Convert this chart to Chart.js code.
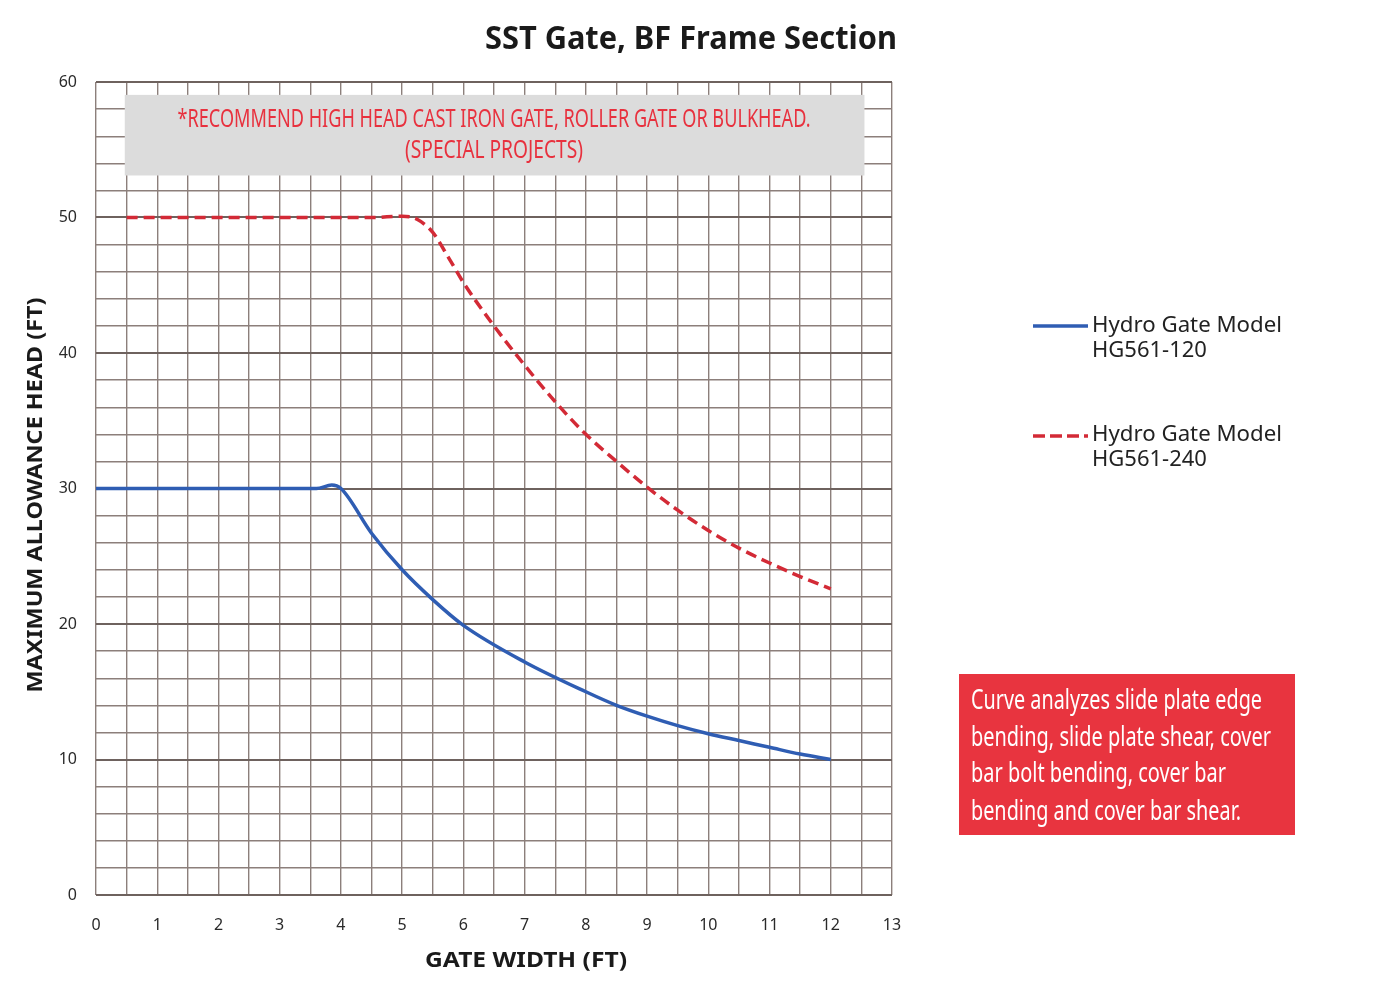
<!DOCTYPE html>
<html>
<head>
<meta charset="utf-8">
<script src="https://cdn.jsdelivr.net/npm/chart.js@4.4.1/dist/chart.umd.min.js"></script>
<style>
html,body{margin:0;padding:0;background:#fff;}
#wrap{width:1383px;height:1000px;position:relative;}
</style>
</head>
<body>
<div id="wrap"><canvas id="c"></canvas></div>
<script>
// ---- Data ----
const titleText = 'SST Gate, BF Frame Section';
const xAxisTitle = 'GATE WIDTH (FT)';
const yAxisTitle = 'MAXIMUM ALLOWANCE HEAD (FT)';
const series1Name = ['Hydro Gate Model', 'HG561-120'];
const series2Name = ['Hydro Gate Model', 'HG561-240'];
const s1X = [0, 1, 2, 3, 3.6, 3.85, 4.0, 4.5, 5, 5.5, 6, 7, 8, 8.5, 9, 9.5, 10, 10.5, 11, 11.5, 12];
const s1Y = [30, 30, 30, 30, 30.0, 30.25, 30.0, 26.7, 24.0, 21.8, 19.9, 17.2, 15.0, 14.0, 13.2, 12.5, 11.9, 11.4, 10.9, 10.4, 10.0];
const s2X = [0.5, 1, 2, 3, 4, 4.5, 5, 5.25, 5.5, 5.75, 6, 6.5, 7, 7.5, 8, 8.5, 9, 9.5, 10, 10.5, 11, 11.5, 12];
const s2Y = [50, 50, 50, 50, 50, 50, 50.1, 49.85, 48.9, 47.1, 45.2, 42.0, 39.1, 36.4, 34.0, 32.0, 30.1, 28.4, 26.9, 25.6, 24.5, 23.5, 22.6];
const xTickLabels = ['0','1','2','3','4','5','6','7','8','9','10','11','12','13'];
const yTickLabels = ['0','10','20','30','40','50','60'];
const noteLines = ['*RECOMMEND HIGH HEAD CAST IRON GATE, ROLLER GATE OR BULKHEAD.', '(SPECIAL PROJECTS)'];
const boxLines = ['Curve analyzes slide plate edge', 'bending, slide plate shear, cover', 'bar bolt bending, cover bar', 'bending and cover bar shear.'];

const BLUE = '#2f5db3';
const RED = '#d32a36';

function fitText(ctx, text, x, y, w, align) {
  const m = ctx.measureText(text).width;
  const s = w / m;
  ctx.save();
  ctx.translate(x, y);
  ctx.scale(s, 1);
  ctx.textAlign = align || 'left';
  ctx.fillText(text, 0, 0);
  ctx.restore();
}

const decor = {
  id: 'decor',
  beforeDatasetsDraw(chart) {
    const ctx = chart.ctx;
    const xs = chart.scales.x, ys = chart.scales.y;
    // gray note box
    const l = xs.getPixelForValue(0.47), r = xs.getPixelForValue(12.55);
    const t = ys.getPixelForValue(59.05), b = ys.getPixelForValue(53.1);
    ctx.save();
    ctx.fillStyle = '#dcdcdc';
    ctx.fillRect(l, t, r - l, b - t);
    ctx.fillStyle = '#e8313e';
    ctx.textBaseline = 'middle';
    ctx.font = '26px "Noto Sans", sans-serif';
    fitText(ctx, noteLines[0], 494, 120, 633, 'center');
    fitText(ctx, noteLines[1], 494, 151, 178, 'center');
    ctx.restore();
  },
  afterDraw(chart) {
    const ctx = chart.ctx;
    ctx.save();
    ctx.fillStyle = '#1a1a1a';
    ctx.textBaseline = 'middle';
    ctx.font = 'bold 32px "Noto Sans", sans-serif';
    fitText(ctx, titleText, 691, 40, 412, 'center');
    ctx.font = 'bold 21px "Noto Sans", sans-serif';
    fitText(ctx, xAxisTitle, 526, 961, 202, 'center');
    ctx.save();
    ctx.translate(36, 495);
    ctx.rotate(-Math.PI / 2);
    fitText(ctx, yAxisTitle, 0, 0, 395, 'center');
    ctx.restore();

    // legend
    ctx.lineWidth = 3.5;
    ctx.strokeStyle = BLUE;
    ctx.beginPath(); ctx.moveTo(1033, 326); ctx.lineTo(1088, 326); ctx.stroke();
    ctx.strokeStyle = RED;
    ctx.setLineDash([12, 5]);
    ctx.beginPath(); ctx.moveTo(1033, 436); ctx.lineTo(1088, 436); ctx.stroke();
    ctx.setLineDash([]);
    ctx.fillStyle = '#222';
    ctx.font = '22px "Noto Sans", sans-serif';
    fitText(ctx, series1Name[0], 1092, 326, 190, 'left');
    ctx.fillText(series1Name[1], 1092, 351);
    fitText(ctx, series2Name[0], 1092, 435, 190, 'left');
    ctx.fillText(series2Name[1], 1092, 460);

    // red info box
    ctx.fillStyle = '#e8343f';
    ctx.fillRect(959, 674, 336, 161);
    ctx.fillStyle = '#ffffff';
    ctx.font = '27px "Noto Sans", sans-serif';
    const widths = [291, 300, 255, 270];
    const ysL = [701, 738, 774, 812];
    boxLines.forEach((s, i) => fitText(ctx, s, 971, ysL[i], widths[i], 'left'));
    ctx.restore();
  }
};

const ctx = document.getElementById('c');
new Chart(ctx, {
  type: 'line',
  data: {
    datasets: [
      {
        label: series1Name.join(' '),
        data: s1X.map((x, i) => ({x, y: s1Y[i]})),
        borderColor: BLUE, borderWidth: 3.5, pointRadius: 0,
        cubicInterpolationMode: 'monotone', fill: false
      },
      {
        label: series2Name.join(' '),
        data: s2X.map((x, i) => ({x, y: s2Y[i]})),
        borderColor: RED, borderWidth: 3.5, borderDash: [11, 6], pointRadius: 0,
        cubicInterpolationMode: 'monotone', fill: false
      }
    ]
  },
  options: {
    responsive: true,
    maintainAspectRatio: false,
    animation: false,
    layout: {padding: {left: 0, top: 82, right: 491, bottom: 0}},
    plugins: {legend: {display: false}, title: {display: false}, tooltip: {enabled: false}},
    scales: {
      x: {
        type: 'linear', min: 0, max: 13,
        afterFit(s) { s.height = 105; },
        afterBuildTicks(s) { const t = []; for (let v = 0; v <= 13.0001; v += 0.5) t.push({value: v}); s.ticks = t; },
        ticks: {
          padding: 21, color: '#2a2a2a', font: {family: '"Noto Sans", sans-serif', size: 16},
          maxRotation: 0, autoSkip: false,
          callback(v) { return Number.isInteger(v) ? xTickLabels[v] : ''; }
        },
        grid: {color: '#8c7f7b', lineWidth: 1.4, drawTicks: false},
        border: {display: false}
      },
      y: {
        type: 'linear', min: 0, max: 60,
        afterFit(s) { s.width = 96; },
        afterBuildTicks(s) { const t = []; for (let v = 0; v <= 60; v += 2) t.push({value: v}); s.ticks = t; },
        ticks: {
          padding: 19, color: '#2a2a2a', font: {family: '"Noto Sans", sans-serif', size: 16},
          autoSkip: false,
          callback(v) { return v % 10 === 0 ? yTickLabels[v / 10] : ''; }
        },
        grid: {
          color: (c) => (c.tick && c.tick.value % 10 === 0) ? '#6e625e' : '#8c7f7b',
          lineWidth: (c) => (c.tick && c.tick.value % 10 === 0) ? 2 : 1.4,
          drawTicks: false
        },
        border: {display: false}
      }
    }
  },
  plugins: [decor]
});
</script>
</body>
</html>
